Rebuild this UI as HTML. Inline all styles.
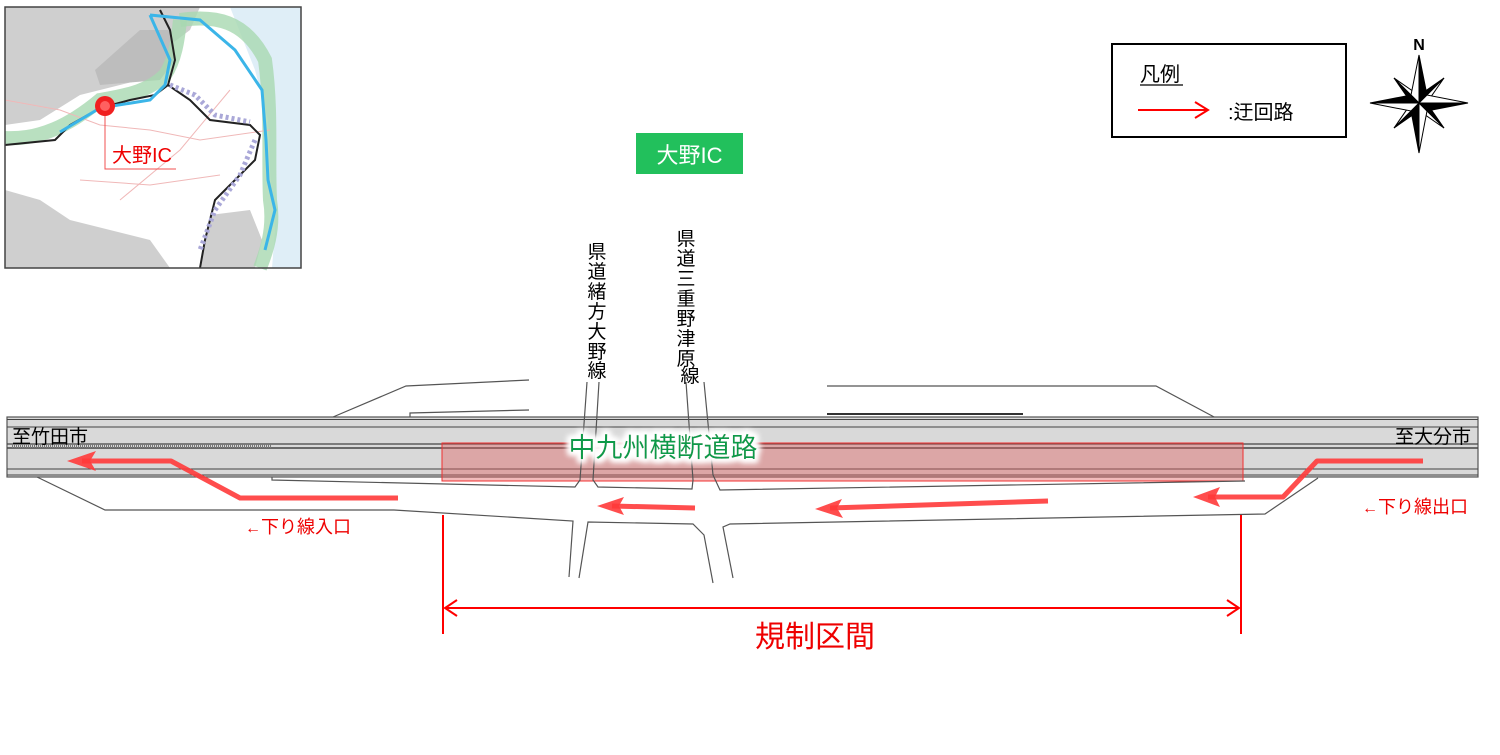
<!DOCTYPE html>
<html><head><meta charset="utf-8"><style>
html,body{margin:0;padding:0;background:#fff;}
svg{display:block;font-family:"Liberation Sans","Noto Sans CJK JP",sans-serif;}
</style></head><body>
<svg width="1500" height="755" viewBox="0 0 1500 755" xmlns="http://www.w3.org/2000/svg">
<defs>
<filter id="glow" x="-20%" y="-50%" width="140%" height="200%"><feMorphology operator="dilate" radius="3" in="SourceAlpha" result="d"/><feGaussianBlur in="d" stdDeviation="3" result="b"/><feFlood flood-color="#fff"/><feComposite in2="b" operator="in" result="w"/><feMerge><feMergeNode in="w"/><feMergeNode in="w"/><feMergeNode in="SourceGraphic"/></feMerge></filter>
</defs>
<!-- inset map -->
<g>
<rect x="5" y="7" width="296" height="261" fill="#fff"/>
<path d="M5,7 L200,7 L190,30 L170,45 L160,75 L120,85 L80,95 L40,120 L5,125 Z" fill="#cfcfcf"/>
<path d="M140,30 L170,30 L175,60 L160,80 L100,85 L95,70 Z" fill="#bdbdbd"/>
<path d="M5,190 L40,200 L70,220 L110,230 L150,240 L170,268 L5,268 Z" fill="#cfcfcf"/>
<path d="M210,215 L250,210 L262,240 L255,268 L200,268 Z" fill="#cfcfcf"/>
<path d="M230,7 L301,7 L301,268 L272,268 L275,230 L270,170 L268,120 L255,70 Z" fill="#dfeef7"/>
<path d="M5,138 C40,140 70,125 100,100 C130,95 150,90 165,75 C175,60 178,40 180,20" stroke="#a8d8b0" stroke-width="14" fill="none" opacity="0.8"/>
<path d="M180,20 C215,15 245,20 265,60 C272,110 268,160 270,200 C275,230 265,255 260,268" stroke="#a8d8b0" stroke-width="14" fill="none" opacity="0.8"/>
<g stroke="#f0b8b8" stroke-width="1" fill="none">
<path d="M5,100 L60,110 L100,125 L150,130 L200,140 L270,130"/>
<path d="M80,180 L150,185 L220,175"/>
<path d="M120,200 L180,150 L230,90"/>
</g>
<path d="M5,145 L55,140 L70,125 L100,108 L130,100 L155,95 L168,85 L175,60 L170,30 L160,10" stroke="#222" stroke-width="2" fill="none"/>
<path d="M168,85 L190,100 L210,120 L250,125 L260,135 L255,160 L235,180 L215,200 L205,240 L200,268" stroke="#222" stroke-width="2" fill="none"/>
<path d="M170,85 L195,95 L215,115 L250,122" stroke="#aaa8d8" stroke-width="5" stroke-dasharray="3,3" fill="none"/>
<path d="M255,140 L240,175 L215,210 L200,250" stroke="#aaa8d8" stroke-width="5" stroke-dasharray="3,3" fill="none"/>
<path d="M60,132 L100,108 L150,100 L165,85 L170,60 L150,15 M150,15 L200,20 L235,50 L262,90 L266,140 L268,180 L275,210 L265,250" stroke="#3bb5e8" stroke-width="3" fill="none"/>
<circle cx="105" cy="106" r="10" fill="#f02020"/>
<circle cx="105" cy="106" r="5" fill="#ff6060"/>
<polyline points="105,116 105,169 176,169" stroke="#f05050" stroke-width="1" fill="none"/>
<text x="112" y="162" font-size="20" fill="#e00">大野IC</text>
<rect x="5" y="7" width="296" height="261" fill="none" stroke="#444" stroke-width="1.5"/>
</g>
<!-- green box -->
<rect x="636" y="133" width="107" height="41" fill="#22c05c"/>
<text x="689.5" y="163" font-size="22" fill="#fff" text-anchor="middle">大野IC</text>
<!-- legend -->
<rect x="1112" y="44" width="234" height="93" fill="#fff" stroke="#000" stroke-width="2"/>
<text x="1140" y="81" font-size="20" fill="#000">凡例</text>
<line x1="1140" y1="85" x2="1183" y2="85" stroke="#000" stroke-width="1.3"/>
<line x1="1138" y1="110" x2="1207" y2="110" stroke="#f00" stroke-width="2"/>
<polyline points="1195,102 1208,110 1195,118" stroke="#f00" stroke-width="2" fill="none"/>
<text x="1228" y="119" font-size="20" fill="#000">:迂回路</text>
<!-- compass -->
<g transform="translate(1419,103)">
<text x="0" y="-53" font-size="16" font-weight="bold" text-anchor="middle">N</text>
<g stroke="#000" stroke-width="1">
<polygon points="25,-25 2,-9 0,0" fill="#000"/><polygon points="25,-25 9,-2 0,0" fill="#fff"/>
<polygon points="-25,25 -2,9 0,0" fill="#000"/><polygon points="-25,25 -9,2 0,0" fill="#fff"/>
<polygon points="25,25 9,2 0,0" fill="#000"/><polygon points="25,25 2,9 0,0" fill="#fff"/>
<polygon points="-25,-25 -9,-2 0,0" fill="#000"/><polygon points="-25,-25 -2,-9 0,0" fill="#fff"/>
<polygon points="0,-48 8,-8 0,0" fill="#000"/><polygon points="0,-48 -8,-8 0,0" fill="#fff"/>
<polygon points="0,50 -8,8 0,0" fill="#000"/><polygon points="0,50 8,8 0,0" fill="#fff"/>
<polygon points="49,0 8,8 0,0" fill="#000"/><polygon points="49,0 8,-8 0,0" fill="#fff"/>
<polygon points="-49,0 -8,-8 0,0" fill="#000"/><polygon points="-49,0 -8,8 0,0" fill="#fff"/>
</g></g>
<!-- top side roads -->
<g stroke="#555" stroke-width="1.2" fill="none">
<polyline points="333,417 406,386 529,380"/>
<polyline points="410,417 410,413 529,410"/>
<polyline points="827,386 1156,386 1216,418"/>
</g>
<line x1="827" y1="414" x2="1023" y2="414" stroke="#333" stroke-width="2"/>
<!-- highway -->
<rect x="7" y="417" width="1471" height="60" fill="#d9d9d9" stroke="#555" stroke-width="1.2"/>
<g stroke="#444" fill="none">
<line x1="7" y1="419.5" x2="1478" y2="419.5" stroke-width="1"/>
<line x1="7" y1="427" x2="1478" y2="427" stroke-width="1"/>
<line x1="7" y1="444" x2="1478" y2="444" stroke-width="1.2"/>
<line x1="7" y1="448" x2="1478" y2="448" stroke-width="1.6"/>
<line x1="7" y1="469" x2="1478" y2="469" stroke-width="1"/>
<line x1="7" y1="475" x2="1478" y2="475" stroke-width="1"/>
</g>
<line x1="12" y1="446" x2="272" y2="446" stroke="#777" stroke-width="4" stroke-dasharray="1,1"/>
<!-- restriction rect -->
<rect x="442" y="443" width="801" height="38" fill="#e06060" fill-opacity="0.42" stroke="#f03030" stroke-width="1"/>
<!-- lower road & crossing roads -->
<g stroke="#555" stroke-width="1.2" fill="none">
<polyline points="37,477 105,510 394,510 573,521 569,577"/>
<polyline points="579,578 588,522 693,524 704,535 713,583"/>
<polyline points="733,578 723,527 730,524 1265,514 1318,478"/>
<polyline points="272,477 272,480 575,487 580,480 587,382"/>
<polyline points="599,382 593,480 598,487 692,489 693,480 686,382"/>
<polyline points="704,382 713,475 720,490 1245,481"/>
</g>
<!-- detour arrows -->
<g stroke="#ff3a3a" stroke-width="5" fill="none" stroke-linejoin="round" opacity="0.9">
<polyline points="398,498 240,498 171,461 82,461"/>
<line x1="695" y1="508" x2="612" y2="506"/>
<line x1="1048" y1="501" x2="830" y2="508"/>
<polyline points="1423,461 1317,461 1283,497 1208,497"/>
</g>
<g fill="#ff3a3a" opacity="0.9">
<polygon points="67,461 96,451 90,461 96,471"/>
<polygon points="597,506 624,497 619,506 624,515"/>
<polygon points="815,509 842,499 837,508 843,518"/>
<polygon points="1193,497 1220,487 1215,497 1220,507"/>
</g>
<!-- labels -->
<text x="12" y="443" font-size="19" fill="#000">至竹田市</text>
<text x="1471" y="443" font-size="19" fill="#000" text-anchor="end">至大分市</text>
<text x="663" y="457" font-size="27" fill="#0a9a48" text-anchor="middle" filter="url(#glow)">中九州横断道路</text>
<text x="245" y="533" font-size="18" fill="#e00"><tspan font-size="16">←</tspan>下り線入口</text>
<text x="1362" y="513" font-size="18" fill="#e00"><tspan font-size="16">←</tspan>下り線出口</text>
<g font-size="19" fill="#000" text-anchor="middle">
<text x="597" y="258">県</text><text x="597" y="278">道</text><text x="597" y="298">緒</text><text x="597" y="318">方</text><text x="597" y="338">大</text><text x="597" y="358">野</text><text x="597" y="377">線</text>
<text x="686" y="245">県</text><text x="686" y="265">道</text><text x="686" y="285">三</text><text x="686" y="305">重</text><text x="686" y="325">野</text><text x="686" y="345">津</text><text x="686" y="365">原</text><text x="690" y="382">線</text>
</g>
<!-- dimension -->
<g stroke="#f00" stroke-width="2" fill="none">
<line x1="443" y1="515" x2="443" y2="634"/>
<line x1="1241" y1="515" x2="1241" y2="634"/>
<line x1="445" y1="608" x2="1239" y2="608"/>
<polyline points="457,600 445,608 457,616"/>
<polyline points="1227,600 1239,608 1227,616"/>
</g>
<text x="815" y="647" font-size="30" fill="#e00" text-anchor="middle">規制区間</text>
</svg>
</body></html>
